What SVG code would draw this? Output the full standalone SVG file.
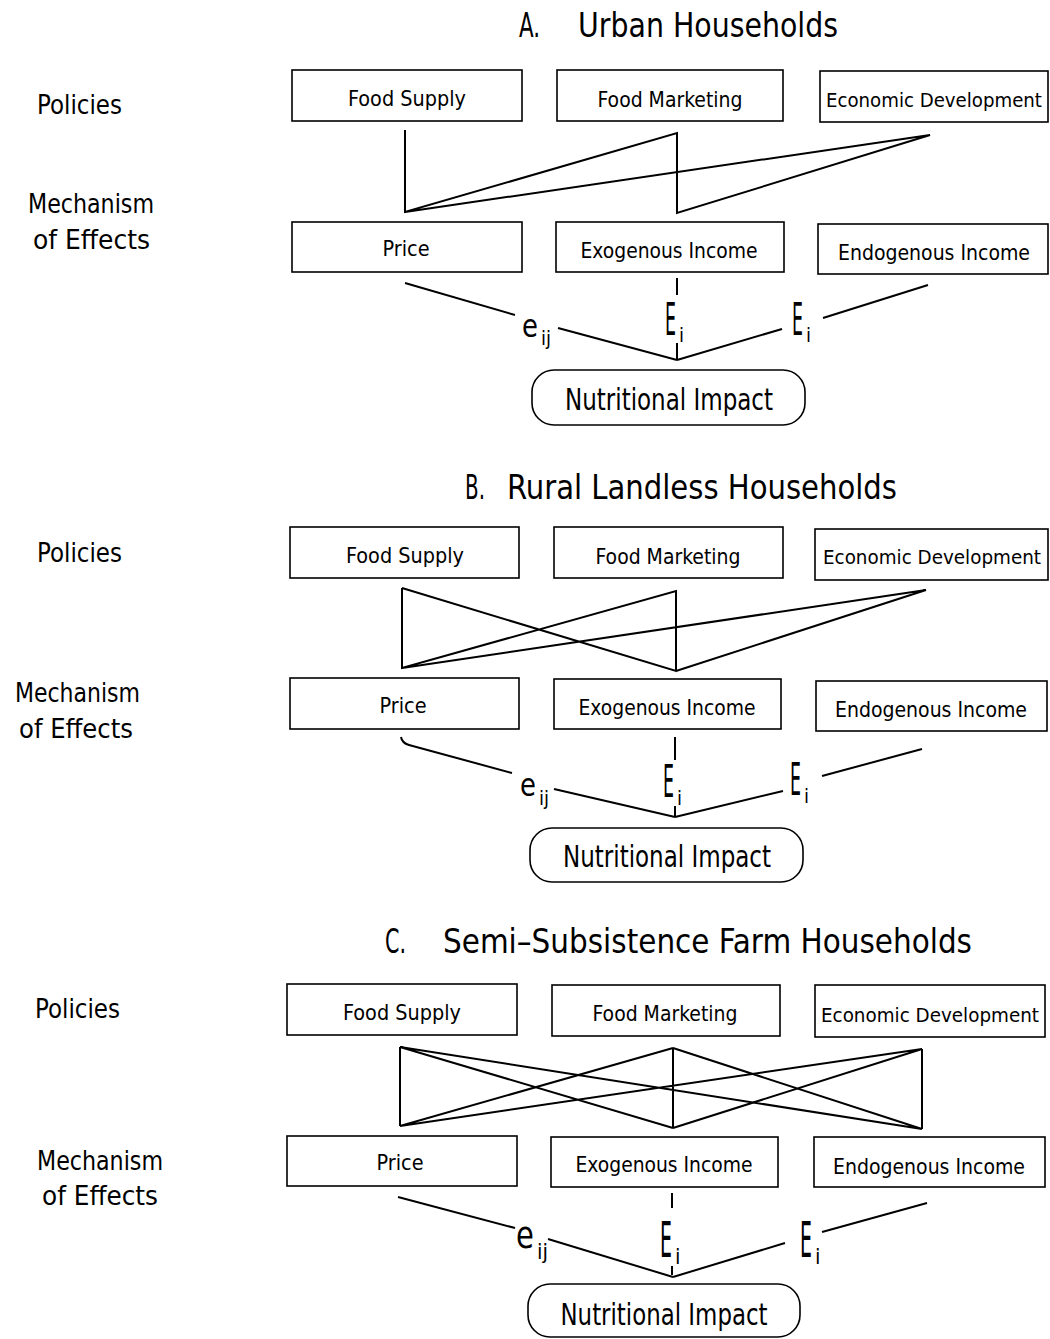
<svg xmlns="http://www.w3.org/2000/svg" width="1050" height="1339" viewBox="0 0 1050 1339">
<style>
.box{fill:#fff;stroke:#000;stroke-width:1.6}
.ln{fill:none;stroke:#000;stroke-width:2}
text{font-family:"DejaVu Sans Condensed","DejaVu Sans","Liberation Sans",sans-serif;fill:#000}
.t{font-size:22px;text-anchor:middle}
.ed{font-size:20px;text-anchor:middle}
.ni{font-size:30px;text-anchor:middle}
.lab{font-size:26px}
.ttl{font-size:33px}
.big{font-size:45px}
.e{font-size:32px}
.sub{font-size:20px}
</style>
<rect width="1050" height="1339" fill="#fff"/>

<!-- Section A -->
<g id="titleA"><text class="ttl" x="519" y="37" textLength="21" lengthAdjust="spacingAndGlyphs">A.</text><text class="ttl" x="578" y="37" textLength="260" lengthAdjust="spacingAndGlyphs">Urban Households</text></g>
<g id="labelsA"><text class="lab" x="37" y="114" textLength="85" lengthAdjust="spacingAndGlyphs">Policies</text><text class="lab" x="28" y="213" textLength="126" lengthAdjust="spacingAndGlyphs">Mechanism</text><text class="lab" x="33" y="249" textLength="117" lengthAdjust="spacingAndGlyphs">of Effects</text></g>
<g id="A_foodSupply"><rect class="box" x="292" y="70" width="230" height="51"/><text class="t" x="407" y="106" textLength="118" lengthAdjust="spacingAndGlyphs">Food Supply</text></g>
<g id="A_foodMarketing"><rect class="box" x="557" y="70" width="226" height="51"/><text class="t" x="670" y="107" textLength="145" lengthAdjust="spacingAndGlyphs">Food Marketing</text></g>
<g id="A_econDev"><rect class="box" x="820" y="71" width="228" height="51"/><text class="ed" x="934" y="107" textLength="216" lengthAdjust="spacingAndGlyphs">Economic Development</text></g>
<g id="A_price"><rect class="box" x="292" y="222" width="230" height="50"/><text class="t" x="406" y="256" textLength="47" lengthAdjust="spacingAndGlyphs">Price</text></g>
<g id="A_exo"><rect class="box" x="556" y="222" width="228" height="50"/><text class="t" x="669" y="258" textLength="177" lengthAdjust="spacingAndGlyphs">Exogenous Income</text></g>
<g id="A_endo"><rect class="box" x="818" y="224" width="230" height="50"/><text class="t" x="934" y="260" textLength="192" lengthAdjust="spacingAndGlyphs">Endogenous Income</text></g>
<g id="A_nutri"><rect class="box" x="532" y="370" width="273" height="55" rx="22"/><text class="ni" x="669" y="410" textLength="208" lengthAdjust="spacingAndGlyphs">Nutritional Impact</text></g>
<g id="A_labels">
<text class="e" transform="translate(522,337) scale(0.9,1)">e</text><text class="sub" x="541" y="345">ij</text>
<text class="big" transform="translate(665,335) scale(0.43,1)">E</text><text class="sub" x="679" y="342">i</text>
<text class="big" transform="translate(792,335) scale(0.43,1)">E</text><text class="sub" x="806" y="342">i</text>
</g>
<g id="A_connectors">
<path class="ln" d="M405,130 V212 L677,133 V213 L930,135 L405,212"/>
<path class="ln" d="M405,283 L515,315 M558,328 L677,360 M677,278 V295 M677,343 V360 M928,285 L823,318 M782,329 L677,360"/>
</g>

<!-- Section B -->
<g id="titleB"><text class="ttl" x="465" y="499" textLength="20" lengthAdjust="spacingAndGlyphs">B.</text><text class="ttl" x="507" y="499" textLength="390" lengthAdjust="spacingAndGlyphs">Rural Landless Households</text></g>
<g id="labelsB"><text class="lab" x="37" y="562" textLength="85" lengthAdjust="spacingAndGlyphs">Policies</text><text class="lab" x="15" y="702" textLength="125" lengthAdjust="spacingAndGlyphs">Mechanism</text><text class="lab" x="19" y="738" textLength="114" lengthAdjust="spacingAndGlyphs">of Effects</text></g>
<g id="B_foodSupply"><rect class="box" x="290" y="527" width="229" height="51"/><text class="t" x="405" y="563" textLength="118" lengthAdjust="spacingAndGlyphs">Food Supply</text></g>
<g id="B_foodMarketing"><rect class="box" x="554" y="527" width="229" height="51"/><text class="t" x="668" y="564" textLength="145" lengthAdjust="spacingAndGlyphs">Food Marketing</text></g>
<g id="B_econDev"><rect class="box" x="815" y="529" width="233" height="51"/><text class="ed" x="932" y="564" textLength="218" lengthAdjust="spacingAndGlyphs">Economic Development</text></g>
<g id="B_price"><rect class="box" x="290" y="678" width="229" height="51"/><text class="t" x="403" y="713" textLength="47" lengthAdjust="spacingAndGlyphs">Price</text></g>
<g id="B_exo"><rect class="box" x="554" y="679" width="227" height="50"/><text class="t" x="667" y="715" textLength="177" lengthAdjust="spacingAndGlyphs">Exogenous Income</text></g>
<g id="B_endo"><rect class="box" x="816" y="681" width="231" height="50"/><text class="t" x="931" y="717" textLength="192" lengthAdjust="spacingAndGlyphs">Endogenous Income</text></g>
<g id="B_nutri"><rect class="box" x="530" y="828" width="273" height="54" rx="22"/><text class="ni" x="667" y="867" textLength="208" lengthAdjust="spacingAndGlyphs">Nutritional Impact</text></g>
<g id="B_labels">
<text class="e" transform="translate(520,796) scale(0.9,1)">e</text><text class="sub" x="539" y="805">ij</text>
<text class="big" transform="translate(663,797) scale(0.43,1)">E</text><text class="sub" x="677" y="805">i</text>
<text class="big" transform="translate(790,795) scale(0.43,1)">E</text><text class="sub" x="804" y="803">i</text>
</g>
<g id="B_connectors">
<path class="ln" d="M402,588 V668 L676,591 V671 L402,588 M402,668 L926,590 L676,671"/>
<path class="ln" d="M401,737 Q402,743 409,745 L512,773 M554,789 L675,817 M675,737 V760 M675,806 V817 M922,749 L822,776 M783,791 L675,817"/>
</g>

<!-- Section C -->
<g id="titleC"><text class="ttl" x="385" y="953" textLength="21" lengthAdjust="spacingAndGlyphs">C.</text><text class="ttl" x="443" y="953" textLength="529" lengthAdjust="spacingAndGlyphs">Semi–Subsistence Farm Households</text></g>
<g id="labelsC"><text class="lab" x="35" y="1018" textLength="85" lengthAdjust="spacingAndGlyphs">Policies</text><text class="lab" x="37" y="1170" textLength="126" lengthAdjust="spacingAndGlyphs">Mechanism</text><text class="lab" x="42" y="1205" textLength="116" lengthAdjust="spacingAndGlyphs">of Effects</text></g>
<g id="C_foodSupply"><rect class="box" x="287" y="984" width="230" height="51"/><text class="t" x="402" y="1020" textLength="118" lengthAdjust="spacingAndGlyphs">Food Supply</text></g>
<g id="C_foodMarketing"><rect class="box" x="552" y="985" width="228" height="51"/><text class="t" x="665" y="1021" textLength="145" lengthAdjust="spacingAndGlyphs">Food Marketing</text></g>
<g id="C_econDev"><rect class="box" x="815" y="985" width="230" height="52"/><text class="ed" x="930" y="1022" textLength="218" lengthAdjust="spacingAndGlyphs">Economic Development</text></g>
<g id="C_price"><rect class="box" x="287" y="1136" width="230" height="50"/><text class="t" x="400" y="1170" textLength="47" lengthAdjust="spacingAndGlyphs">Price</text></g>
<g id="C_exo"><rect class="box" x="551" y="1137" width="227" height="50"/><text class="t" x="664" y="1172" textLength="177" lengthAdjust="spacingAndGlyphs">Exogenous Income</text></g>
<g id="C_endo"><rect class="box" x="814" y="1137" width="231" height="50"/><text class="t" x="929" y="1174" textLength="192" lengthAdjust="spacingAndGlyphs">Endogenous Income</text></g>
<g id="C_nutri"><rect class="box" x="528" y="1284" width="272" height="53" rx="22"/><text class="ni" x="664" y="1325" textLength="207" lengthAdjust="spacingAndGlyphs">Nutritional Impact</text></g>
<g id="C_labels">
<text class="e" style="font-size:38px" transform="translate(516,1248) scale(0.85,1)">e</text><text class="sub" style="font-size:22px" x="537" y="1259">ij</text>
<text class="big" style="font-size:50px" transform="translate(660,1257) scale(0.42,1)">E</text><text class="sub" style="font-size:22px" x="675" y="1264">i</text>
<text class="big" style="font-size:50px" transform="translate(800,1257) scale(0.42,1)">E</text><text class="sub" style="font-size:22px" x="815" y="1264">i</text>
</g>
<g id="C_connectors">
<path class="ln" d="M400,1047 V1126 M673,1048 V1128 M922,1049 V1129 M400,1047 L673,1128 M400,1047 L922,1129 M673,1048 L400,1126 M673,1048 L922,1129 M922,1049 L400,1126 M922,1049 L673,1128"/>
<path class="ln" d="M398,1197 L515,1228 M548,1239 L673,1277 M672,1193 V1208 M672,1266 V1275 M927,1203 L822,1232 M785,1243 L673,1277"/>
</g>
</svg>
